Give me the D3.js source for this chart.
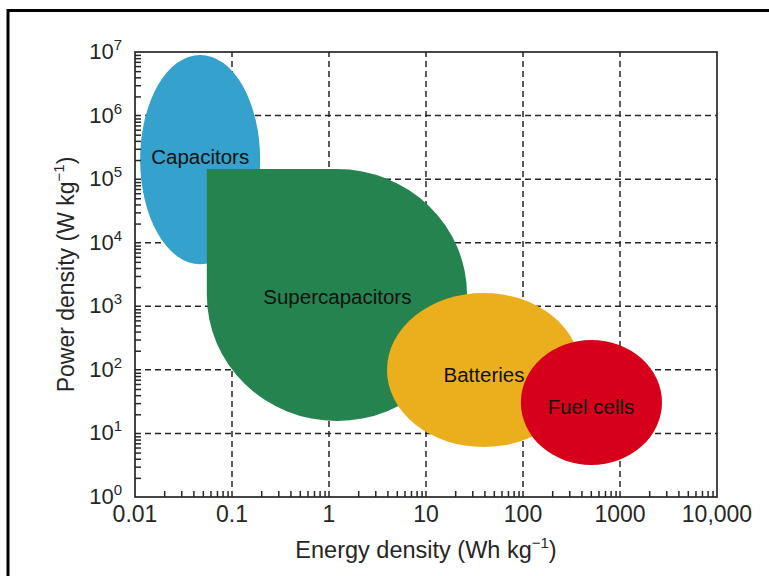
<!DOCTYPE html>
<html>
<head>
<meta charset="utf-8">
<script src="https://cdn.jsdelivr.net/npm/d3@7"></script>
<style>
  html, body { margin: 0; padding: 0; background: #fff; }
  svg { display: block; font-family: "Liberation Sans", Arial, Helvetica, sans-serif; }
</style>
</head>
<body>
<svg id="chart" width="769" height="576"></svg>
<script>
// Ragone plot: power density vs energy density for storage technologies

const technologies = ["Capacitors", "Supercapacitors", "Batteries", "Fuel cells"];
const colors       = ["#35a1cd", "#25834f", "#ebaf1d", "#d7001b"];
// Extent of each region (Wh/kg and W/kg)
const energyMin = [0.0113, 0.055, 3.96, 95];
const energyMax = [0.195, 26.5, 390, 2710];
const powerMin  = [4600, 15.7, 6.1, 3.2];
const powerMax  = [9.0e6, 1.44e5, 1620, 295];
// Label anchor of each region
const labelEnergy = [0.047, 1.22, 39.6, 502];
const labelPower  = [2.23e5, 1400, 83, 26];

const xDecades = [0.01, 0.1, 1, 10, 100, 1000, 10000];
const xTickLabels = ["0.01", "0.1", "1", "10", "100", "1000", "10,000"];
const yExponents = [0, 1, 2, 3, 4, 5, 6, 7];

const svg = d3.select("#chart");
const plotL = 135, plotR = 717, plotT = 52, plotB = 497;

const x = d3.scaleLog().domain([0.01, 10000]).range([plotL, plotR]);
const y = d3.scaleLog().domain([1, 1e7]).range([plotB, plotT]);

// outer frame
svg.append("rect")
  .attr("x", 8).attr("y", 10.5).attr("width", 800).attr("height", 600)
  .attr("fill", "none").attr("stroke", "#000").attr("stroke-width", 3);

const ink = "#262626";

// minor tick values
const minorX = [];
for (let d = -2; d < 4; d++) for (let m = 2; m <= 9; m++) minorX.push(m * Math.pow(10, d));
const minorY = [];
for (let d = 0; d < 7; d++) for (let m = 2; m <= 9; m++) minorY.push(m * Math.pow(10, d));

// dashed grid at decades
const grid = svg.append("g").attr("stroke", ink).attr("stroke-width", 1.5).attr("stroke-dasharray", "6,4");
xDecades.slice(1, -1).forEach(v => {
  grid.append("line").attr("x1", x(v)).attr("x2", x(v)).attr("y1", plotB).attr("y2", plotT);
});
yExponents.slice(1, -1).forEach(e => {
  const v = Math.pow(10, e);
  grid.append("line").attr("x1", plotL).attr("x2", plotR).attr("y1", y(v)).attr("y2", y(v));
});

// regions
const regions = svg.append("g");
technologies.forEach((name, i) => {
  const x0 = x(energyMin[i]), x1 = x(energyMax[i]);
  const y0 = y(powerMax[i]), y1 = y(powerMin[i]);
  const cx = (x0 + x1) / 2, cy = (y0 + y1) / 2;
  const rx = (x1 - x0) / 2, ry = (y1 - y0) / 2;
  if (name === "Supercapacitors") {
    // squared upper-left corner, rounded elsewhere
    const d = `M${x0},${y0}H${cx}A${rx},${ry} 0 0 1 ${x1},${cy}A${rx},${ry} 0 0 1 ${cx},${y1}A${rx},${ry} 0 0 1 ${x0},${cy}Z`;
    regions.append("path").attr("d", d).attr("fill", colors[i]);
  } else {
    regions.append("ellipse")
      .attr("cx", cx).attr("cy", cy).attr("rx", rx).attr("ry", ry)
      .attr("fill", colors[i]);
  }
});

// region labels
technologies.forEach((name, i) => {
  svg.append("text")
    .attr("x", x(labelEnergy[i])).attr("y", y(labelPower[i]))
    .attr("dy", "0.36em")
    .attr("text-anchor", "middle")
    .attr("font-size", 20.5)
    .attr("fill", "#111")
    .text(name);
});

// axes frame
svg.append("rect")
  .attr("x", plotL).attr("y", plotT).attr("width", plotR - plotL).attr("height", plotB - plotT)
  .attr("fill", "none").attr("stroke", ink).attr("stroke-width", 1.7);

// minor ticks
const xAxis = svg.append("g").attr("transform", `translate(0,${plotB})`)
  .call(d3.axisBottom(x).tickValues(minorX).tickSize(-6).tickFormat(""));
xAxis.select(".domain").remove();
xAxis.selectAll("line").attr("stroke", ink).attr("stroke-width", 1.5);

const yAxis = svg.append("g").attr("transform", `translate(${plotL},0)`)
  .call(d3.axisLeft(y).tickValues(minorY).tickSize(-6).tickFormat(""));
yAxis.select(".domain").remove();
yAxis.selectAll("line").attr("stroke", ink).attr("stroke-width", 1.5);

// x tick labels
xDecades.forEach((v, i) => {
  svg.append("text")
    .attr("x", x(v)).attr("y", plotB + 25)
    .attr("text-anchor", "middle")
    .attr("font-size", 23)
    .attr("fill", ink)
    .text(xTickLabels[i]);
});

// y tick labels as powers of ten
yExponents.forEach(e => {
  const t = svg.append("text")
    .attr("x", plotL - 13).attr("y", y(Math.pow(10, e)) + 7)
    .attr("text-anchor", "end")
    .attr("font-size", 22)
    .attr("fill", ink);
  t.append("tspan").text("10");
  t.append("tspan").attr("font-size", 15).attr("dy", -9).text(e);
});

// axis titles
const xt = svg.append("text")
  .attr("x", (plotL + plotR) / 2).attr("y", 558)
  .attr("text-anchor", "middle").attr("font-size", 23.5).attr("fill", ink);
xt.append("tspan").text("Energy density (Wh kg");
xt.append("tspan").attr("font-size", 15).attr("dy", -10).text("\u22121");
xt.append("tspan").attr("dy", 10).text(")");

const yt = svg.append("text")
  .attr("transform", `translate(74,${(plotT + plotB) / 2}) rotate(-90)`)
  .attr("text-anchor", "middle").attr("font-size", 23).attr("fill", ink);
yt.append("tspan").text("Power density (W kg");
yt.append("tspan").attr("font-size", 15).attr("dy", -10).text("\u22121");
yt.append("tspan").attr("dy", 10).text(")");
</script>
</body>
</html>
